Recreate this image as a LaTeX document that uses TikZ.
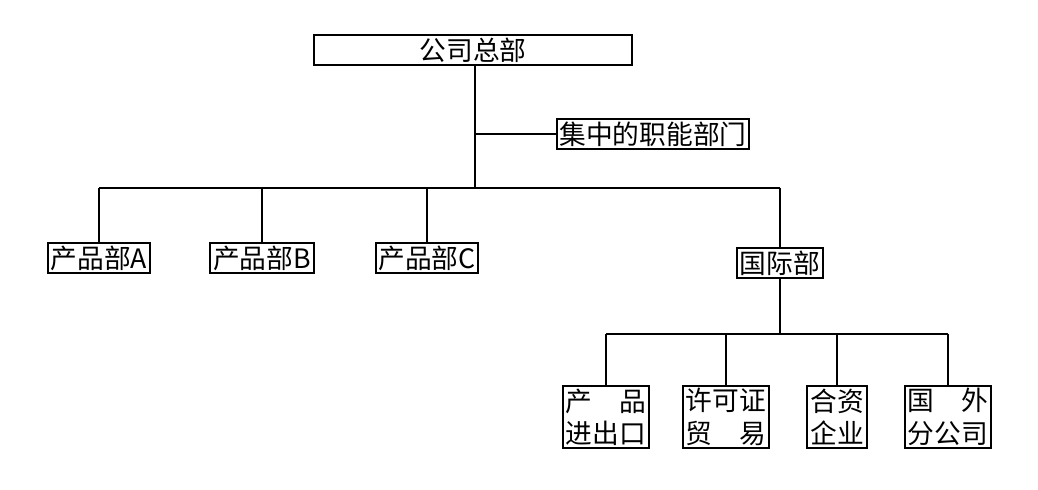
\documentclass[tikz,border=0pt]{standalone}
\usepackage{fontspec}
\setmainfont{Noto Sans CJK SC}
\usetikzlibrary{positioning}
\tikzset{
  box/.style={draw,line width=1.4pt,inner sep=2pt,font=\fontsize{19}{23}\selectfont},
  link/.style={line width=0.9pt}
}
\begin{document}
\begin{tikzpicture}[x=0.025cm,y=-0.025cm]
\useasboundingbox (0,0) rectangle (1038,490);
\node[box,minimum width=162\pgflinewidth] (hq) at (473,50) {公司总部};
\node[box] (func) at (653,134) {集中的职能部门};
\node[box] (pa) at (99,258) {产品部A};
\node[box] (pb) at (262,258) {产品部B};
\node[box] (pc) at (427,258) {产品部C};
\node[box] (intl) at (780,263) {国际部};
\node[box,align=center] (exp) at (606,417) {产\hspace{1em}品\\进出口};
\node[box,align=center] (lic) at (726,417) {许可证\\贸\hspace{1em}易};
\node[box,align=center] (jv) at (837,417) {合资\\企业};
\node[box,align=center] (sub) at (948,417) {国\hspace{1em}外\\分公司};
% trunk
\coordinate (mid) at (475,134);
\coordinate (bar) at (475,188);
\draw[link] (hq.south -| mid) -- (bar);
\draw[link] (mid) -- (func.west);
\draw[link] (pa.north |- bar) -- (intl.north |- bar);
\foreach \n in {pa,pb,pc,intl}
  \draw[link] (\n.north |- bar) -- (\n.north);
% international branch
\coordinate (ibar) at (780,334);
\draw[link] (intl.south) -- (ibar);
\draw[link] (exp.north |- ibar) -- (sub.north |- ibar);
\foreach \n in {exp,lic,jv,sub}
  \draw[link] (\n.north |- ibar) -- (\n.north);
\end{tikzpicture}
\end{document}
